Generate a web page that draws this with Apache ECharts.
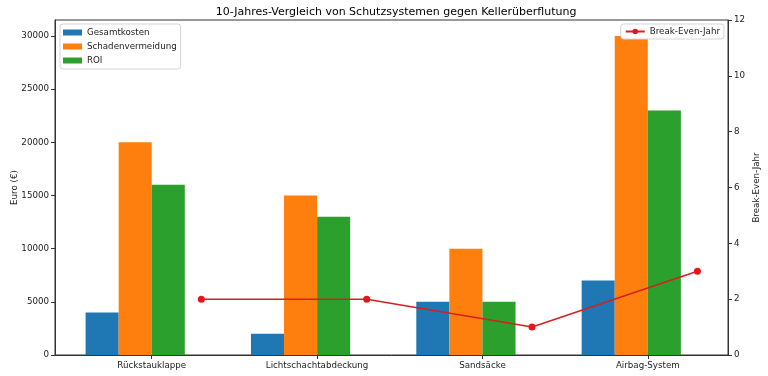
<!DOCTYPE html>
<html>
<head>
<meta charset="utf-8">
<script src="https://cdn.jsdelivr.net/npm/echarts@6/dist/echarts.min.js"></script>
<style>
  html, body { margin: 0; padding: 0; background: #fff; }
  #chart { width: 768px; height: 376px; }
</style>
</head>
<body>
<div id="chart"></div>
<script>
/* Schutzsysteme - 10-Jahres-Vergleich */

var categories = ['Rückstauklappe', 'Lichtschachtabdeckung', 'Sandsäcke', 'Airbag-System'];
var gesamtkosten = [4000, 2000, 5000, 7000];
var schadenvermeidung = [20000, 15000, 10000, 30000];
var roi = [16000, 13000, 5000, 23000];
var breakEven = [2, 2, 1, 3];
var euroTicks = [0, 5000, 10000, 15000, 20000, 25000, 30000];
var jahrTicks = [0, 2, 4, 6, 8, 10, 12];

var BAR_W = 0.2;
var FONT = 'DejaVu Sans';
var FS = 8.7;

function place(values, offset) {
	return values.map(function (v, i) { return [i + offset, v]; });
}

function barItem(params, api) {
	var x = api.value(0), y = api.value(1);
	var p0 = api.coord([x - BAR_W / 2, y]);
	var p1 = api.coord([x + BAR_W / 2, 0]);
	return {
		type: 'rect',
		shape: { x: p0[0], y: p0[1], width: p1[0] - p0[0], height: p1[1] - p0[1] },
		style: { fill: api.visual('color') }
	};
}

var chart = echarts.init(document.getElementById('chart'));

var option = {
	animation: false,
	textStyle: { fontFamily: FONT },
	title: {
		text: '10-Jahres-Vergleich von Schutzsystemen gegen Kellerüberflutung',
		left: 391, textAlign: 'center', top: 2,
		textStyle: { fontFamily: FONT, fontSize: 11, fontWeight: 'normal', color: '#000' }
	},
	grid: {
		left: 55, right: 40, top: 20, bottom: 21,
		outerBoundsMode: 'none', containLabel: false,
		show: true, borderColor: '#333', borderWidth: 1
	},
	legend: [{
		data: ['Gesamtkosten', 'Schadenvermeidung', 'ROI'],
		orient: 'vertical', left: 60, top: 24,
		itemWidth: 19, itemHeight: 6, itemGap: 5, icon: 'rect',
		padding: [4, 4, 4, 3],
		borderColor: '#d5d5d5', borderWidth: 1, borderRadius: 3,
		backgroundColor: '#fff',
		textStyle: { fontFamily: FONT, fontSize: FS, color: '#222' }
	}, {
		data: ['Break-Even-Jahr'],
		right: 44, top: 24,
		itemWidth: 19, itemHeight: 7,
		padding: [3, 4, 3, 4],
		borderColor: '#d5d5d5', borderWidth: 1, borderRadius: 3,
		backgroundColor: '#fff',
		textStyle: { fontFamily: FONT, fontSize: FS, color: '#222' }
	}],
	xAxis: {
		type: 'value', min: -0.585, max: 3.485,
		axisLine: { show: true, lineStyle: { color: '#333' } },
		axisTick: { show: true, length: 4, customValues: [0, 1, 2, 3], lineStyle: { color: '#333' } },
		axisLabel: {
			customValues: [0, 1, 2, 3], fontSize: FS, color: '#222', margin: 6,
			formatter: function (v) { return categories[Math.round(v)]; }
		},
		splitLine: { show: false }
	},
	yAxis: [{
		type: 'value', min: 0, max: 31500, position: 'left',
		name: 'Euro (€)', nameLocation: 'middle', nameGap: 36, nameRotate: 90,
		nameMoveOverlap: false,
		nameTextStyle: { fontFamily: FONT, fontSize: FS, color: '#222' },
		axisLine: { show: true, onZero: false, lineStyle: { color: '#333' } },
		axisTick: { show: true, length: 4, customValues: euroTicks, lineStyle: { color: '#333' } },
		axisLabel: {
			customValues: euroTicks, fontSize: FS, color: '#222', margin: 6,
			formatter: function (v) { return String(v); }
		},
		splitLine: { show: false }
	}, {
		type: 'value', min: 0, max: 12, position: 'right',
		name: 'Break-Even-Jahr', nameLocation: 'middle', nameGap: 24, nameRotate: 90,
		nameMoveOverlap: false,
		nameTextStyle: { fontFamily: FONT, fontSize: FS, color: '#222' },
		axisLine: { show: true, onZero: false, lineStyle: { color: '#333' } },
		axisTick: { show: true, length: 4, customValues: jahrTicks, lineStyle: { color: '#333' } },
		axisLabel: {
			customValues: jahrTicks, fontSize: FS, color: '#222', margin: 6,
			formatter: function (v) { return String(v); }
		},
		splitLine: { show: false }
	}],
	series: [{
		name: 'Gesamtkosten', type: 'custom', renderItem: barItem,
		itemStyle: { color: '#1f77b4' }, data: place(gesamtkosten, -0.3)
	}, {
		name: 'Schadenvermeidung', type: 'custom', renderItem: barItem,
		itemStyle: { color: '#ff7f0e' }, data: place(schadenvermeidung, -0.1)
	}, {
		name: 'ROI', type: 'custom', renderItem: barItem,
		itemStyle: { color: '#2ca02c' }, data: place(roi, 0.1)
	}, {
		name: 'Break-Even-Jahr', type: 'line', yAxisIndex: 1,
		symbol: 'circle', symbolSize: 7,
		lineStyle: { color: '#d81e1e', width: 1.5 },
		itemStyle: { color: '#e8141c' },
		data: place(breakEven, 0.3), z: 5
	}]
};

chart.setOption(option);
</script>
</body>
</html>
